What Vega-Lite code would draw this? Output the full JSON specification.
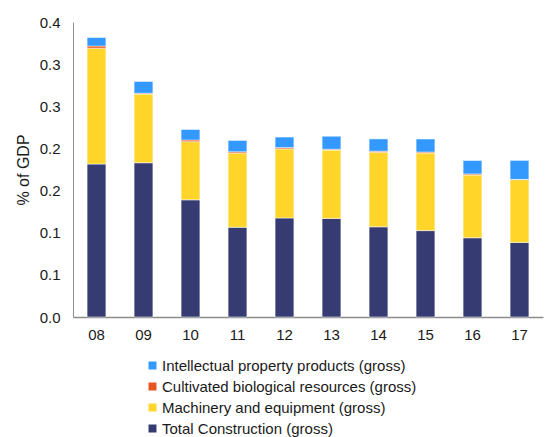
{
  "$schema": "https://vega.github.io/schema/vega-lite/v6.json",
  "autosize": "none",
  "width": 470,
  "height": 295,
  "padding": {"left": 73, "top": 22, "right": 5, "bottom": 120},
  "background": "white",
  "config": {
    "view": {"stroke": null},
    "font": "Liberation Sans",
    "axis": {"labelFont": "Liberation Sans", "titleFont": "Liberation Sans", "labelColor": "#1a1a1a", "titleColor": "#1a1a1a"}
  },
  "data": {
    "values": [
      {"year": "08", "series": "Total Construction (gross)", "ord": 1, "value": 0.1815},
      {"year": "08", "series": "Machinery and equipment (gross)", "ord": 2, "value": 0.1375},
      {"year": "08", "series": "Cultivated biological resources (gross)", "ord": 3, "value": 0.0025},
      {"year": "08", "series": "Intellectual property products (gross)", "ord": 4, "value": 0.010},
      {"year": "09", "series": "Total Construction (gross)", "ord": 1, "value": 0.183},
      {"year": "09", "series": "Machinery and equipment (gross)", "ord": 2, "value": 0.0815},
      {"year": "09", "series": "Cultivated biological resources (gross)", "ord": 3, "value": 0.001},
      {"year": "09", "series": "Intellectual property products (gross)", "ord": 4, "value": 0.014},
      {"year": "10", "series": "Total Construction (gross)", "ord": 1, "value": 0.139},
      {"year": "10", "series": "Machinery and equipment (gross)", "ord": 2, "value": 0.069},
      {"year": "10", "series": "Cultivated biological resources (gross)", "ord": 3, "value": 0.002},
      {"year": "10", "series": "Intellectual property products (gross)", "ord": 4, "value": 0.0125},
      {"year": "11", "series": "Total Construction (gross)", "ord": 1, "value": 0.1065},
      {"year": "11", "series": "Machinery and equipment (gross)", "ord": 2, "value": 0.088},
      {"year": "11", "series": "Cultivated biological resources (gross)", "ord": 3, "value": 0.0015},
      {"year": "11", "series": "Intellectual property products (gross)", "ord": 4, "value": 0.0135},
      {"year": "12", "series": "Total Construction (gross)", "ord": 1, "value": 0.1175},
      {"year": "12", "series": "Machinery and equipment (gross)", "ord": 2, "value": 0.082},
      {"year": "12", "series": "Cultivated biological resources (gross)", "ord": 3, "value": 0.0015},
      {"year": "12", "series": "Intellectual property products (gross)", "ord": 4, "value": 0.0125},
      {"year": "13", "series": "Total Construction (gross)", "ord": 1, "value": 0.117},
      {"year": "13", "series": "Machinery and equipment (gross)", "ord": 2, "value": 0.081},
      {"year": "13", "series": "Cultivated biological resources (gross)", "ord": 3, "value": 0.001},
      {"year": "13", "series": "Intellectual property products (gross)", "ord": 4, "value": 0.0155},
      {"year": "14", "series": "Total Construction (gross)", "ord": 1, "value": 0.107},
      {"year": "14", "series": "Machinery and equipment (gross)", "ord": 2, "value": 0.0885},
      {"year": "14", "series": "Cultivated biological resources (gross)", "ord": 3, "value": 0.0012},
      {"year": "14", "series": "Intellectual property products (gross)", "ord": 4, "value": 0.0146},
      {"year": "15", "series": "Total Construction (gross)", "ord": 1, "value": 0.1025},
      {"year": "15", "series": "Machinery and equipment (gross)", "ord": 2, "value": 0.092},
      {"year": "15", "series": "Cultivated biological resources (gross)", "ord": 3, "value": 0.0012},
      {"year": "15", "series": "Intellectual property products (gross)", "ord": 4, "value": 0.0155},
      {"year": "16", "series": "Total Construction (gross)", "ord": 1, "value": 0.094},
      {"year": "16", "series": "Machinery and equipment (gross)", "ord": 2, "value": 0.0745},
      {"year": "16", "series": "Cultivated biological resources (gross)", "ord": 3, "value": 0.0012},
      {"year": "16", "series": "Intellectual property products (gross)", "ord": 4, "value": 0.016},
      {"year": "17", "series": "Total Construction (gross)", "ord": 1, "value": 0.0885},
      {"year": "17", "series": "Machinery and equipment (gross)", "ord": 2, "value": 0.0745},
      {"year": "17", "series": "Cultivated biological resources (gross)", "ord": 3, "value": 0.0003},
      {"year": "17", "series": "Intellectual property products (gross)", "ord": 4, "value": 0.0225}
    ]
  },
  "mark": {"type": "bar", "stroke": "#ffffff", "strokeOpacity": 0.5, "strokeWidth": 1},
  "encoding": {
    "x": {
      "field": "year", "type": "ordinal", "title": null,
      "scale": {"paddingInner": 0.6, "paddingOuter": 0.3},
      "axis": {"labelAngle": 0, "labelFontSize": 15, "labelPadding": 10, "ticks": false, "domainColor": "#8c8c8c", "domainWidth": 1.5}
    },
    "y": {
      "field": "value", "type": "quantitative", "stack": "zero",
      "title": "% of GDP",
      "scale": {"domain": [0, 0.35], "nice": false},
      "axis": {
        "values": [0, 0.05, 0.1, 0.15, 0.2, 0.25, 0.3, 0.35],
        "labelExpr": "format(datum.value + 0.0001, '.1f')",
        "labelFontSize": 15, "labelPadding": 13, "ticks": false, "grid": false,
        "domainColor": "#8c8c8c", "domainWidth": 1,
        "titleFontSize": 16, "titleFontWeight": "normal", "titlePadding": 8
      }
    },
    "color": {
      "field": "series", "type": "nominal", "title": null,
      "scale": {
        "domain": ["Intellectual property products (gross)", "Cultivated biological resources (gross)", "Machinery and equipment (gross)", "Total Construction (gross)"],
        "range": ["#3399FF", "#E8561F", "#FFD52A", "#363C72"]
      },
      "legend": {
        "orient": "none", "legendX": 72, "legendY": 336,
        "symbolType": "square", "symbolSize": 64, "symbolStrokeWidth": 0,
        "labelFontSize": 15, "labelColor": "#1a1a1a", "labelFont": "Liberation Sans",
        "labelLimit": 400,
        "rowPadding": 5, "labelOffset": 2
      }
    },
    "order": {"field": "ord", "type": "quantitative", "sort": "ascending"}
  }
}
